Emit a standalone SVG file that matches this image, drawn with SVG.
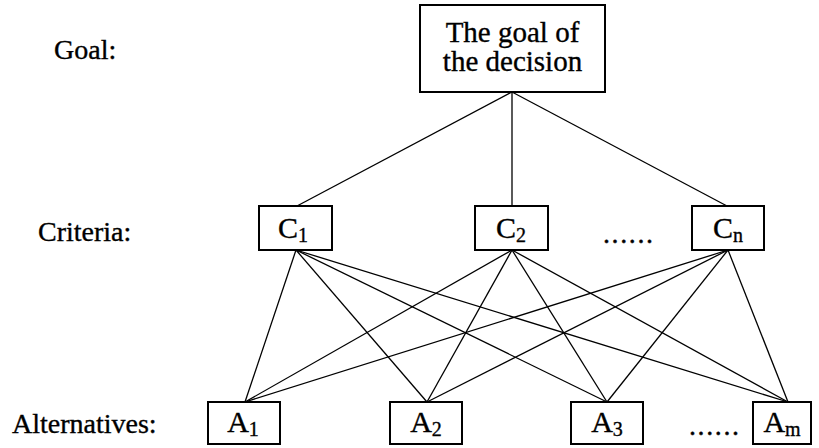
<svg xmlns="http://www.w3.org/2000/svg" width="819" height="448" viewBox="0 0 819 448">
<style>
text{font-family:"Liberation Serif","Times New Roman",serif;fill:#000;stroke:#000;stroke-width:0.35}
.lbl{font-size:28px}
.dots{font-size:28px;letter-spacing:1.6px}
.node rect{fill:#fff;stroke:#000;stroke-width:2}
.nt{font-size:29px;text-anchor:middle}
.ct{font-size:30px;text-anchor:middle}
.sub{font-size:20px}
#connectors line{stroke:#000;stroke-width:1.3}
</style>
<rect width="819" height="448" fill="#fff"/>
<text class="lbl" x="54" y="59">Goal:</text>
<text class="lbl" x="38" y="241">Criteria:</text>
<text class="lbl" x="12" y="433">Alternatives:</text>
<text class="dots" x="603" y="243">......</text>
<text class="dots" x="689" y="435">......</text>
<g id="connectors">
<line x1="512" y1="92" x2="297" y2="206"/>
<line x1="512" y1="92" x2="512" y2="206"/>
<line x1="512" y1="92" x2="727" y2="206"/>
<line x1="296" y1="250" x2="245" y2="402"/>
<line x1="296" y1="250" x2="427" y2="402"/>
<line x1="296" y1="250" x2="607" y2="402"/>
<line x1="296" y1="250" x2="788" y2="402"/>
<line x1="512" y1="250" x2="245" y2="402"/>
<line x1="512" y1="250" x2="427" y2="402"/>
<line x1="512" y1="250" x2="607" y2="402"/>
<line x1="512" y1="250" x2="788" y2="402"/>
<line x1="728" y1="250" x2="245" y2="402"/>
<line x1="728" y1="250" x2="427" y2="402"/>
<line x1="728" y1="250" x2="607" y2="402"/>
<line x1="728" y1="250" x2="788" y2="402"/>
</g>
<g id="goal" class="node">
<rect x="420" y="5" width="185" height="87"/>
<text class="nt" x="512.5" y="42">The goal of</text>
<text class="nt" x="512.5" y="71">the decision</text>
</g>
<g id="c1" class="node">
<rect x="259" y="206" width="73" height="44"/>
<text class="ct" x="293" y="238">C<tspan class="sub" dy="4">1</tspan></text>
</g>
<g id="c2" class="node">
<rect x="475" y="206" width="73" height="44"/>
<text class="ct" x="511" y="238">C<tspan class="sub" dy="4">2</tspan></text>
</g>
<g id="cn" class="node">
<rect x="692" y="206" width="72" height="44"/>
<text class="ct" x="728" y="238">C<tspan class="sub" dy="4">n</tspan></text>
</g>
<g id="a1" class="node">
<rect x="208" y="402" width="72" height="42"/>
<text class="ct" x="243" y="432">A<tspan class="sub" dy="4">1</tspan></text>
</g>
<g id="a2" class="node">
<rect x="390" y="402" width="72" height="42"/>
<text class="ct" x="426" y="432">A<tspan class="sub" dy="4">2</tspan></text>
</g>
<g id="a3" class="node">
<rect x="571" y="402" width="72" height="42"/>
<text class="ct" x="607" y="432">A<tspan class="sub" dy="4">3</tspan></text>
</g>
<g id="am" class="node">
<rect x="753" y="402" width="58" height="42"/>
<text class="ct" x="782" y="432">A<tspan class="sub" dy="4">m</tspan></text>
</g>
</svg>
